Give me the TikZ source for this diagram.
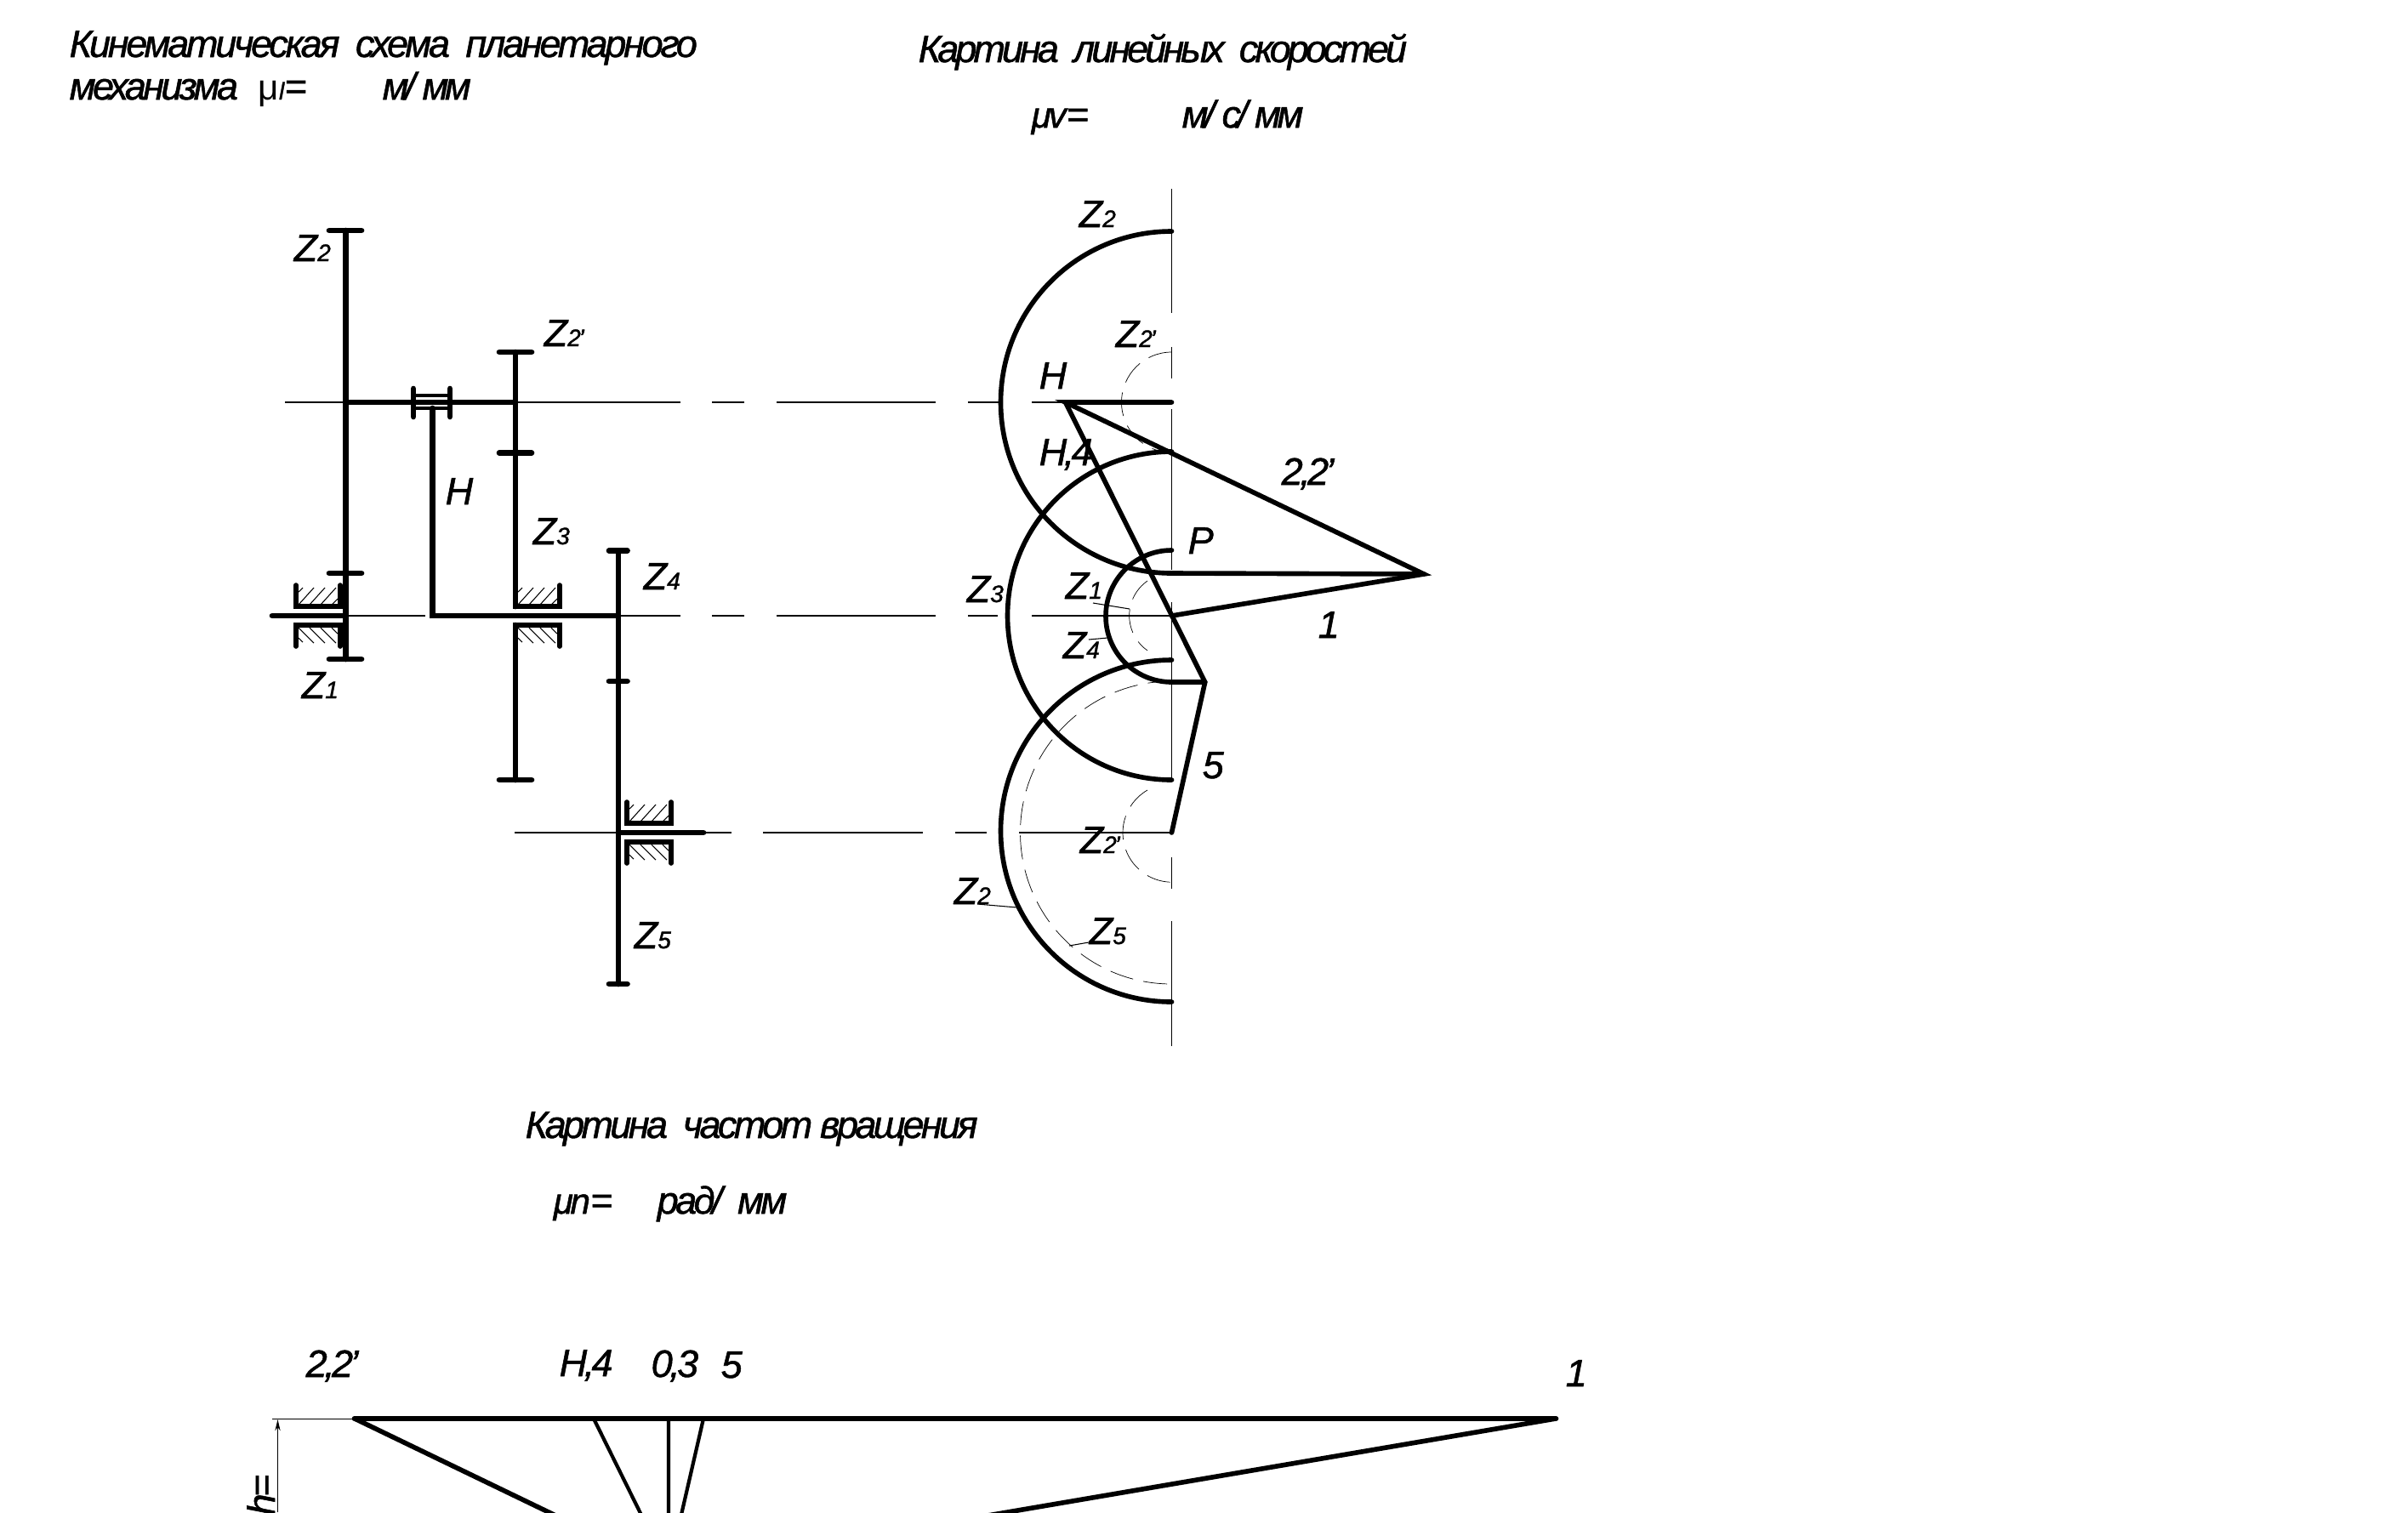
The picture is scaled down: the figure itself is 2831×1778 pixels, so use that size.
\documentclass[tikz,border=0pt]{standalone}
\usepackage{fontspec}
\setmainfont[LetterSpace=-8,ItalicFont={Liberation Sans Italic},ItalicFeatures={FakeBold=1.2}]{Liberation Sans}
\usetikzlibrary{arrows.meta}
\newcommand{\subsz}{\fontsize{8}{9}\selectfont}
\newcommand{\musz}{\fontsize{12}{14}\selectfont}
\newcommand{\zz}[1]{Z{\subsz #1}}
% upper and lower part of a support, (#1,#2) is the left end on the shaft line
\newcommand{\support}[2]{
	\draw[supline,shift={(#1,#2)}](0,36)--(0,11)--(52,11)--(52,36);
	\draw[supline,shift={(#1,#2)}](0,-36)--(0,-11)--(52,-11)--(52,-36);
	\foreach \hx in {3,16,29}{
		\draw[thinline,shift={(#1,#2)}](\hx,13)--++(18,20);
		\draw[thinline,shift={(#1,#2)}](\hx,-14)--++(18,-18);
	}
	\draw[thinline,shift={(#1,#2)}](42,13)--(49,20) (3,28)--(8,33) (42,-14)--(49,-21) (3,-26)--(8,-31);
}
\tikzset{
	gearline/.style={line width=1.9pt,line cap=round},
	supline/.style={line width=1.6pt,line cap=round},
	arcline/.style={line width=1.6pt,line cap=round},
	thinline/.style={line width=.3pt},
	dashline/.style={line width=.2pt,dash pattern=on 8pt off 3.5pt},
	lab/.style={anchor=base west,inner sep=0pt,font=\itshape\fontsize{12.8}{15}\selectfont},
}
\begin{document}
\begin{tikzpicture}[x=.01cm,y=.01cm]
	\clip(0,0)rectangle(2831,-1778);
	% titles
	\node[lab](t1a)at(81,-67){\addfontfeature{LetterSpace=-7.2}Кинематическая\ \ схема\ \ планетарного};
	\node[lab](t1b)at(81,-117){механизма};
	\node[lab](t1c)at(303,-117){{\musz\upshape μ{\subsz\itshape l}}=};
	\node[lab](t1d)at(449,-117){\addfontfeature{LetterSpace=-10}м/ мм};
	\node[lab](t2a)at(1079,-73){\addfontfeature{LetterSpace=-8.8}Картина\ \ линейных\ \ скоростей};
	\node[lab](t2b)at(1212,-150){{\musz μv}=};
	\node[lab](t2c)at(1389,-150){\addfontfeature{LetterSpace=-10}м/ с/ мм};
	\node[lab](t3a)at(617,-1338){Картина\ \ частот вращения};
	\node[lab](t3b)at(650,-1427){{\musz μn}=};
	\node[lab](t3c)at(772,-1427){рад/\ \ мм};
	% centre lines of the scheme
	\draw[thinline](335,-473)--(800,-473) (837,-473)--(875,-473) (913,-473)--(1100,-473)
		(1138,-473)--(1174,-473) (1213,-473)--(1252,-473);
	\draw[thinline](410,-724)--(500,-724) (727,-724)--(800,-724) (837,-724)--(875,-724)
		(913,-724)--(1100,-724) (1138,-724)--(1173,-724) (1213,-724)--(1377.5,-724);
	\draw[thinline](605,-979)--(860,-979) (897,-979)--(1085,-979)
		(1123,-979)--(1160,-979) (1198,-979)--(1377.5,-979);
	% wheels Z1,Z2
	\draw[gearline](406.5,-271)--(406.5,-775);
	\draw[gearline](387,-271)--(425,-271) (387,-674)--(425,-674) (387,-775)--(425,-775);
	\draw[gearline](320,-724)--(406.5,-724);
	\support{348}{-724}
	% wheels Z2',Z3
	\draw[gearline](606,-414)--(606,-713) (606,-735)--(606,-917);
	\draw[gearline](587,-414)--(625,-414) (587,-532.5)--(625,-532.5) (587,-917)--(625,-917);
	\support{606}{-724}
	% carrier H
	\draw[gearline](406.5,-473)--(606,-473);
	\draw[gearline](486,-457)--(486,-490) (529,-457)--(529,-490);
	\draw[line width=1pt](486,-465)--(529,-465) (486,-480)--(529,-480);
	\draw[gearline](508.5,-480)--(508.5,-724)--(727,-724);
	% wheels Z4,Z5
	\draw[gearline](727,-647.5)--(727,-1157);
	\draw[gearline](716,-647.5)--(737.5,-647.5) (716,-801)--(737.5,-801) (716,-1157)--(737.5,-1157);
	\draw[gearline](727,-979)--(827,-979);
	\support{737}{-979}
	\node[lab](zs2)at(345,-307){\zz{2}};
	\node[lab](zs2p)at(639,-407){\zz{2'}};
	\node[lab](hs)at(523,-593){H};
	\node[lab](zs3)at(626,-640){\zz{3}};
	\node[lab](zs4)at(756,-693){\zz{4}};
	\node[lab](zs1)at(354,-821){\zz{1}};
	\node[lab](zs5)at(745,-1115){\zz{5}};
	% picture of velocities
	\coordinate(ptip)at(1674,-675);
	\coordinate(ph)at(1252.6,-473);
	\coordinate(pa)at(1377.5,-473);
	\coordinate(pb)at(1377.5,-724);
	\coordinate(pc)at(1416.7,-802);
	\coordinate(pd)at(1377.5,-979);
	\draw[thinline](1377.5,-222)--(1377.5,-368) (1377.5,-408)--(1377.5,-445) (1377.5,-481)--(1377.5,-670)
		(1377.5,-708)--(1377.5,-917) (1377.5,-1008)--(1377.5,-1045) (1377.5,-1083)--(1377.5,-1230);
	\draw[arcline](1377.5,-272)arc[start angle=90,end angle=270,radius=201]--(ptip);
	\draw[arcline](1377.5,-531)arc[start angle=90,end angle=270,radius=193];
	\draw[arcline](1377.5,-647)arc[start angle=90,end angle=270,radius=77.5]--(pc);
	\draw[arcline](1377.5,-776)arc[start angle=90,end angle=270,radius=201];
	\draw[arcline](pa)--(ph)--(ptip)--(pb);
	\draw[arcline](ph)--(pc)--(pd);
	\draw[dashline](1377.5,-414)arc[start angle=90,end angle=270,radius=59];
	\draw[dashline](1349,-683)arc[start angle=125,end angle=235,radius=50];
	\draw[dashline](1377.5,-801)arc[start angle=90,end angle=270,radius=178];
	\draw[dashline](1349,-929)arc[start angle=120,end angle=270,radius=58];
	\draw[thinline](1285,-709)--(1328,-716) (1280,-752)--(1302,-750)
		(1149,-1063)--(1196,-1067) (1280,-1108)--(1257,-1112);
	\node[lab](zv2)at(1268,-267){\zz{2}};
	\node[lab](zv2p)at(1311,-408){\zz{2'}};
	\node[lab](hv)at(1221,-457){H};
	\node[lab](hv4)at(1221,-547){H,4};
	\node[lab](v22)at(1506,-570){2,2'};
	\node[lab](pv)at(1396,-651){P};
	\node[lab](zv1)at(1252,-704){\zz{1}};
	\node[lab](zv3)at(1136,-708){\zz{3}};
	\node[lab](v1)at(1549,-750){1};
	\node[lab](zv4)at(1249,-774){\zz{4}};
	\node[lab](v5)at(1413,-915){5};
	\node[lab](zv2q)at(1269,-1003){\zz{2'}};
	\node[lab](zv2r)at(1121,-1063){\zz{2}};
	\node[lab](zv5)at(1280,-1110){\zz{5}};
	% picture of rotation speeds
	\coordinate(n2)at(417,-1668);
	\coordinate(n4)at(698,-1668);
	\coordinate(n0)at(786,-1668);
	\coordinate(n5)at(827,-1668);
	\coordinate(n1)at(1829,-1668);
	\coordinate(npole)at(786,-1846);
	\draw[gearline](n2)--(n1);
	\draw[arcline](n2)--(npole)--(n1);
	\draw[line width=1.2pt](n4)--(npole)--(n0) (n5)--(npole);
	\draw[thinline](320,-1668)--(n2);
	\draw[thinline,-{Stealth[length=3.8pt,width=1.8pt]}](326.5,-1778)--(326.5,-1669);
	\node[lab,rotate=90,anchor=base east](hn)at(323,-1733){h=};
	\node[lab](n22)at(359,-1619){2,2'};
	\node[lab](nh4)at(657,-1618){H,4};
	\node[lab](n03)at(765,-1619){0,3};
	\node[lab](n55)at(847,-1620){5};
	\node[lab](n11)at(1840,-1630){1};
\end{tikzpicture}
\end{document}
